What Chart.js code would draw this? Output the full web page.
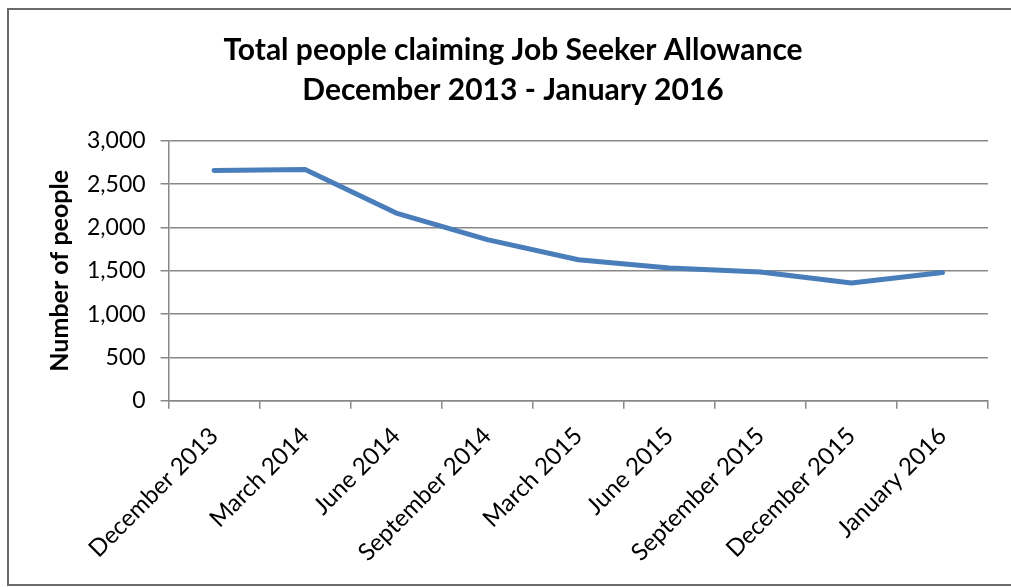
<!DOCTYPE html>
<html>
<head>
<meta charset="utf-8">
<script src="https://cdn.jsdelivr.net/npm/chart.js@4"></script>
<style>
  body { margin: 0; background: #fff; }
  #caixa { position: relative; width: 1011px; height: 587px; overflow: hidden; }
  #grafico { position: absolute; left: 0; top: 0; }
  #moldura { position: absolute; left: 7px; top: 8px; width: 1020px; height: 574px;
             border: 2px solid #6a6a6a; pointer-events: none; }
</style>
</head>
<body>
<div id="caixa">
  <canvas id="grafico" width="1011" height="587"></canvas>
  <div id="moldura"></div>
</div>
<script>
// Pessoas com Job Seeker Allowance por trimestre
var periodos = ['December 2013', 'March 2014', 'June 2014', 'September 2014', 'March 2015',
                'June 2015', 'September 2015', 'December 2015', 'January 2016']
var pessoas = [2657, 2668, 2166, 1860, 1627, 1531, 1485, 1358, 1480]
var titulo = ['Total people claiming Job Seeker Allowance', 'December 2013 - January 2016']
var tituloEixoY = 'Number of people'

var fonte = 'Lato, "Open Sans", sans-serif'
Chart.defaults.font.family = fonte
Chart.defaults.color = '#000'

const ctx = document.getElementById('grafico')

let grafico = new Chart(ctx, {
  type: 'line',
  data: {
    labels: periodos,
    datasets: [{
      data: pessoas,
      borderColor: '#4a7ebb',
      borderWidth: 5,
      pointRadius: 0,
      borderCapStyle: 'round',
      borderJoinStyle: 'round',
      tension: 0
    }]
  },
  options: {
    responsive: false,
    animation: false,
    layout: { padding: { top: 30, right: 23, left: 38, bottom: 7 } },
    plugins: {
      legend: { display: false },
      tooltip: { enabled: false },
      title: {
        display: true,
        text: titulo,
        font: { size: 30, weight: 'bold', lineHeight: 1.33 },
        color: '#000',
        padding: { top: 0, bottom: 31 }
      }
    },
    scales: {
      x: {
        offset: true,
        grid: { display: true, drawOnChartArea: false, offset: true, tickLength: 8, color: '#888', lineWidth: 1.5 },
        border: { color: '#888', width: 1.5 },
        ticks: { maxRotation: 45, minRotation: 45, autoSkip: false, font: { size: 24 }, padding: 13 }
      },
      y: {
        min: 0,
        max: 3000,
        grid: { color: '#888', lineWidth: 1.5, tickLength: 8 },
        border: { color: '#888', width: 1.5 },
        ticks: { stepSize: 500, font: { size: 23 }, padding: 15,
                 callback: function (v) { return v.toLocaleString('en-US') } },
        title: { display: true, text: tituloEixoY, font: { size: 25, weight: 'bold', lineHeight: 1 },
                 padding: { top: 9, bottom: 0 } }
      }
    }
  }
})
</script>
</body>
</html>
